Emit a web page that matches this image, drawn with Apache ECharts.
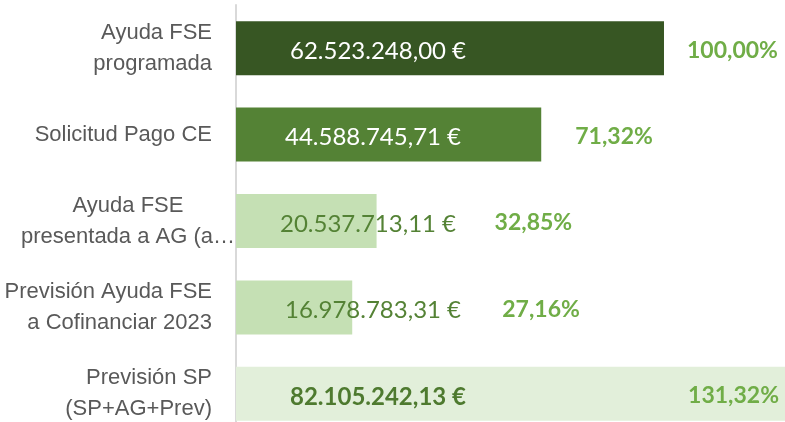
<!DOCTYPE html>
<html>
<head>
<meta charset="utf-8">
<script src="https://cdn.jsdelivr.net/npm/echarts@6/dist/echarts.min.js"></script>
<style>
  html, body { margin: 0; padding: 0; background: #fff; }
  #main { width: 785px; height: 422px; }
</style>
</head>
<body>
<div id="main"></div>
<script>
// categorias y valores (euros)
const categories = [
  "Ayuda FSE\nprogramada",
  "Solicitud Pago CE",
  "Ayuda FSE\npresentada a AG (a…",
  "Previsión Ayuda FSE\na Cofinanciar 2023",
  "Previsión SP\n(SP+AG+Prev)"
];
const amounts = [62523248.00, 44588745.71, 20537713.11, 16978783.31, 82105242.13];
const barColors = ["#375623", "#548235", "#C5E0B4", "#C5E0B4", "#E2EFDA"];
const amountLabelColors = ["#ffffff", "#ffffff", "#548235", "#548235", "#4E7A2F"];

function fmtEuro(v) {
  const parts = v.toFixed(2).split(".");
  const ent = parts[0].replace(/\B(?=(\d{3})+(?!\d))/g, ".");
  return ent + "," + parts[1] + " €";
}
function fmtPct(v) {
  return (v / amounts[0] * 100).toFixed(2).replace(".", ",") + "%";
}

const amountDist = [54, 49, 44, 49, 54];
const pctDist = [23, 34, 118, 150, 6];

let myChart = echarts.init(document.getElementById("main"));
let option = {
  animation: false,
  grid: { left: 236, right: 0, top: 5, bottom: -15, outerBoundsMode: "none" },
  xAxis: {
    type: "value",
    min: 0,
    max: 80200000,
    show: false
  },
  yAxis: {
    type: "category",
    inverse: true,
    // la etiqueta truncada va centrada, como en el original
    data: categories.map((c, i) => i === 2
      ? { value: c, textStyle: { align: "center", padding: [0, 168, 0, 0] } }
      : c),
    axisTick: { show: false },
    axisLine: { lineStyle: { color: "#D9D9D9", width: 2 } },
    axisLabel: {
      color: "#595959",
      fontFamily: "Liberation Sans",
      fontSize: 22,
      lineHeight: 31,
      margin: 24,
      align: "right"
    }
  },
  series: [
    {
      name: "importe",
      type: "bar",
      barWidth: 54,
      silent: true,
      data: amounts.map((v, i) => ({
        value: v,
        itemStyle: { color: barColors[i] },
        label: {
          color: amountLabelColors[i],
          distance: amountDist[i],
          fontWeight: i === 4 ? "bold" : "normal"
        }
      })),
      label: {
        show: true,
        position: "insideLeft",
        offset: [0, 3],
        fontFamily: "Lato",
        fontSize: 24,
        formatter: p => fmtEuro(p.value)
      }
    },
    {
      name: "porcentaje",
      type: "bar",
      barWidth: 54,
      barGap: "-100%",
      silent: true,
      itemStyle: { color: "rgba(0,0,0,0)" },
      data: amounts.map((v, i) => ({
        value: v,
        label: {
          position: i === 4 ? "insideRight" : "right",
          distance: pctDist[i]
        }
      })),
      label: {
        show: true,
        color: "#70AD47",
        fontFamily: "Lato",
        fontWeight: "bold",
        fontSize: 23,
        offset: [0, 2],
        formatter: p => fmtPct(p.value)
      }
    }
  ]
};
myChart.setOption(option);
</script>
</body>
</html>
